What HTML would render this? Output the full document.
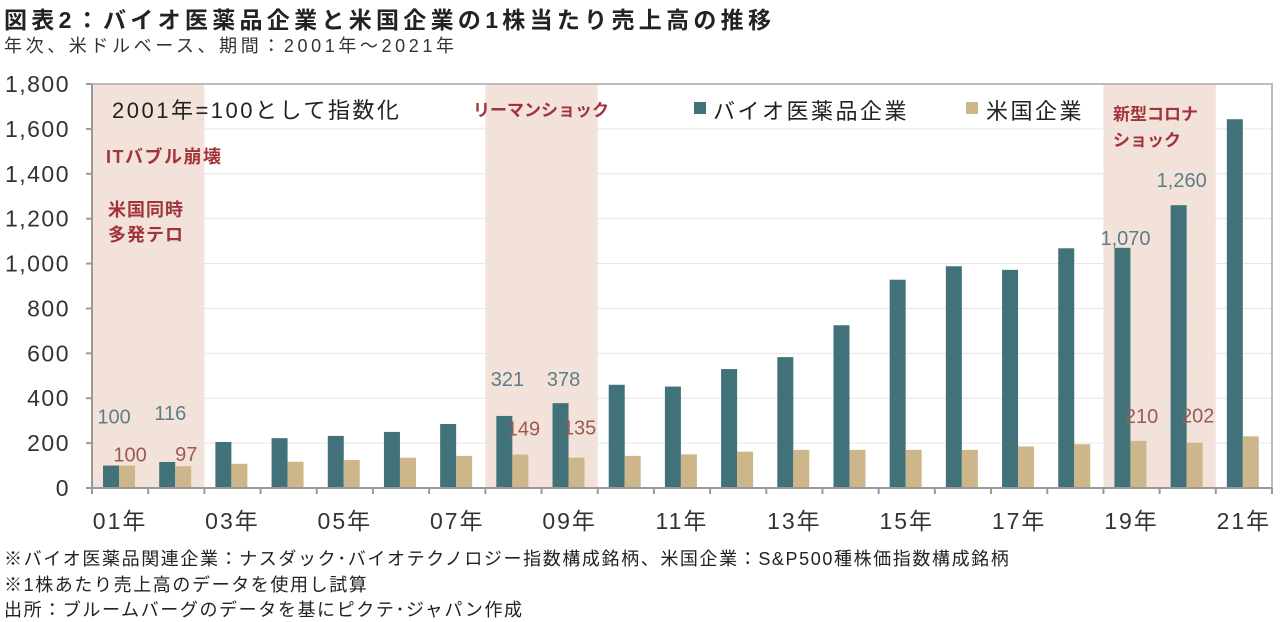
<!DOCTYPE html>
<html><head><meta charset="utf-8">
<style>
body{margin:0;background:#fff;width:1280px;height:622px;overflow:hidden;font-family:"Liberation Sans","Noto Sans CJK JP",sans-serif;}
.t{position:absolute;white-space:nowrap;}
</style></head><body>
<div class="t" style="left:4px;top:1px;font-size:23px;letter-spacing:4.3px;font-weight:bold;color:#222;">図表2：バイオ医薬品企業と米国企業の1株当たり売上高の推移</div>
<div class="t" style="left:4px;top:32px;font-size:18px;letter-spacing:3.6px;color:#333;">年次、米ドルベース、期間：2001年～2021年</div>
<svg id="chart" width="1280" height="560" style="position:absolute;left:0;top:0" font-family="Liberation Sans, Noto Sans CJK JP, sans-serif"></svg>
<div class="t" style="left:4px;top:545px;font-size:18px;letter-spacing:1.6px;color:#222;">※バイオ医薬品関連企業：ナスダック･バイオテクノロジー指数構成銘柄、米国企業：S&amp;P500種株価指数構成銘柄</div>
<div class="t" style="left:4px;top:571px;font-size:18px;letter-spacing:1.6px;color:#222;">※1株あたり売上高のデータを使用し試算</div>
<div class="t" style="left:4px;top:596px;font-size:18px;letter-spacing:1.6px;color:#222;">出所：ブルームバーグのデータを基にピクテ･ジャパン作成</div>
<script>
const years=["01","02","03","04","05","06","07","08","09","10","11","12","13","14","15","16","17","18","19","20","21"];
const bioValues=[100,116,205,222,232,250,285,321,378,460,452,530,583,725,928,988,972,1068,1070,1260,1643];
const usValues=[100,97,108,117,125,135,143,149,135,143,150,162,170,170,170,170,185,195,210,202,230];
const yTicks=[0,200,400,600,800,1000,1200,1400,1600,1800];
const bioLabeled=[0,1,7,8,18,19];
const usLabeled=[0,1,7,8,18,19];
const shadeRanges=[[0,1],[7,8],[18,19]];
const NS="http://www.w3.org/2000/svg";
const svg=document.getElementById('chart');
const X0=92,X1=1272,Y0=488,YT=84,YMAX=1800;
const slot=(X1-X0)/years.length;
const y=v=>Y0-(v/YMAX)*(Y0-YT);
const xs=i=>X0+i*slot;
const bioOff={0:42,1:42,7:30,8:17,18:3,19:18};
const usOff={0:4,1:5,7:19,8:23,18:18,19:20};
function mk(tag,attrs){const e=document.createElementNS(NS,tag);for(const k in attrs)e.setAttribute(k,attrs[k]);svg.appendChild(e);return e;}
shadeRanges.forEach(r=>{const e=mk('rect',{x:xs(r[0]),y:YT,width:slot*(r[1]-r[0]+1),height:Y0-YT,fill:'#f3e2da'});

});
yTicks.forEach(v=>{
 if(v>0&&v<YMAX){const g=mk('line',{x1:X0,x2:X1,y1:y(v),y2:y(v),stroke:'#e6e6e6','stroke-width':1});
 
 }
 const t=mk('text',{x:70,y:y(v)+8,'text-anchor':'end','font-size':23,'letter-spacing':1.5,fill:'#333'});t.textContent=v.toLocaleString('en-US');
 
 
 const tk=mk('line',{x1:X0-6,x2:X0,y1:y(v),y2:y(v),stroke:'#999','stroke-width':2});
 
 
});
const fr=mk('polyline',{points:`${X0},${YT} ${X1},${YT} ${X1},${Y0}`,fill:'none',stroke:'#bbb','stroke-width':2});


years.forEach((yr,i)=>{
 const bx=xs(i)+11;
 const b=mk('rect',{x:bx,y:y(bioValues[i]),width:16,height:Y0-y(bioValues[i]),fill:'#41727a'});
 
 
 const u=mk('rect',{x:bx+16,y:y(usValues[i]),width:16,height:Y0-y(usValues[i]),fill:'#cdb68a'});
 
 
 const tk=mk('line',{x1:xs(i),x2:xs(i),y1:Y0,y2:Y0+6,stroke:'#999','stroke-width':2});
 
 
 if(i%2===0){const t=mk('text',{x:xs(i)+slot/2,y:Y0+41,'text-anchor':'middle','font-size':23,'letter-spacing':2,fill:'#333'});t.textContent=yr+'年';
 
 }
});
const tke=mk('line',{x1:X1,x2:X1,y1:Y0,y2:Y0+6,stroke:'#999','stroke-width':2});
const ax=mk('line',{x1:X0,x2:X1,y1:Y0,y2:Y0,stroke:'#999','stroke-width':2});


const ay=mk('line',{x1:X0,x2:X0,y1:YT,y2:Y0,stroke:'#999','stroke-width':2});


bioLabeled.forEach(i=>{const t=mk('text',{x:xs(i)+slot/2-6,y:y(bioValues[i])-bioOff[i],'text-anchor':'middle','font-size':20,fill:'#5a7f86'});
 t.textContent=bioValues[i].toLocaleString('en-US');
 
 });
usLabeled.forEach(i=>{const t=mk('text',{x:xs(i)+slot/2+10,y:y(usValues[i])-usOff[i],'text-anchor':'middle','font-size':20,fill:'#9c5a50'});
 t.textContent=usValues[i].toLocaleString('en-US');
 
 });
function txt(s,x,yy,size,fill,name,w,ls){const t=mk('text',{x:x,y:yy,'font-size':size,fill:fill,'font-weight':w||'normal','letter-spacing':ls||0});t.textContent=s;
 
 return t;}
txt('2001年=100として指数化',112,118,22,'#222','index-note','normal',2.5);
txt('ITバブル崩壊',106,163,18,'#a0343a','annotation-it-bubble','bold',1.5);
txt('米国同時',108,216,18,'#a0343a','annotation-911','bold',1);
txt('多発テロ',108,241,18,'#a0343a','annotation-911-2','bold',1);
txt('リーマンショック',473,116,17,'#a0343a','annotation-lehman','bold');
txt('新型コロナ',1113,120,17,'#a0343a','annotation-covid','bold');
txt('ショック',1113,146,17,'#a0343a','annotation-covid-2','bold');
const l1=mk('rect',{x:694,y:102,width:12,height:12,fill:'#41727a'});


txt('バイオ医薬品企業',713,119,22,'#222','legend-label-bio','normal',2.5);
const l2=mk('rect',{x:966,y:102,width:12,height:12,fill:'#cdb68a'});


txt('米国企業',986,119,22,'#222','legend-label-us','normal',2.5);
</script>
</body></html>
